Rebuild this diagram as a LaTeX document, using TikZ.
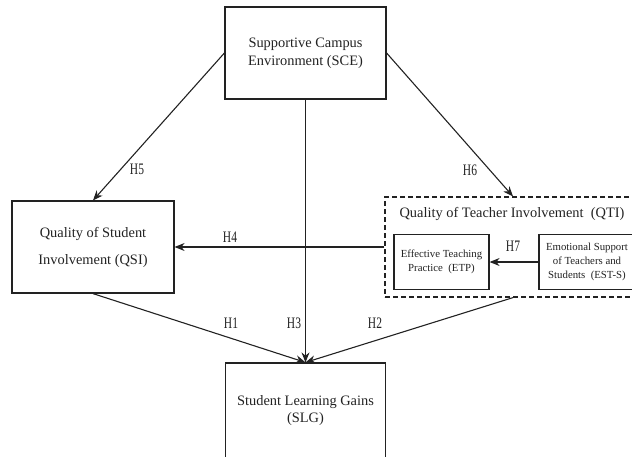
\documentclass[tikz,border=0pt]{standalone}
\usepackage{fontspec}
\setmainfont{Liberation Serif}
\usetikzlibrary{arrows.meta}
\definecolor{ink}{HTML}{222222}
\tikzset{
  box/.style={draw=ink, line width=1.2pt, align=center, text=ink, inner sep=0pt},
  conn/.style={draw=ink, line width=1.1pt, -{Stealth[length=10pt,width=8pt]}},
  hlab/.style={text=ink, inner sep=0pt, font=\fontsize{16}{18}\selectfont},
}
\newcommand{\hl}[1]{\scalebox{0.72}[1]{#1}}
\begin{document}
\begin{tikzpicture}[x=1pt,y=-1pt]
\useasboundingbox (0,0) rectangle (632,456);
\node[box, minimum width=161pt, minimum height=92pt, font=\fontsize{14.4}{18}\selectfont]
  (sce) at (305.5,53) {Supportive Campus\\Environment (SCE)};
\node[box, minimum width=162pt, minimum height=92pt, font=\fontsize{14.4}{27}\selectfont]
  (qsi) at (93,247) {Quality of Student\\Involvement (QSI)};
\node[box, minimum width=160pt, minimum height=95pt, font=\fontsize{14.4}{17}\selectfont]
  (slg) at (305.5,410.5) {Student Learning Gains\\(SLG)};
\node[box, dashed, dash pattern=on 5pt off 3pt, minimum width=256pt, minimum height=100pt]
  (qti) at (513,247) {};
\node[text=ink, inner sep=0pt, font=\fontsize{14.4}{17}\selectfont]
  (qtit) at (512,214) {Quality of Teacher Involvement\ \ (QTI)};
\node[box, minimum width=95pt, minimum height=55pt, font=\fontsize{10.8}{14}\selectfont]
  (etp) at (441.5,262) {Effective Teaching\\Practice\ \ (ETP)};
\node[box, minimum width=96pt, minimum height=55pt, font=\fontsize{10.8}{14}\selectfont]
  (ests) at (587,262) {Emotional Support\\of Teachers and\\Students\ \ (EST-S)};
\draw[conn] (sce.west) -- (qsi.north);
\draw[conn] (sce.east) -- (qti.north);
\draw[conn] (sce.south) -- (slg.north);
\draw[conn] (qsi.south) -- (slg.north);
\draw[conn] (qti.south) -- (slg.north);
\draw[conn] (qti.west) -- (qsi.east);
\draw[conn] (ests.west) -- (etp.east);
\node[hlab] (h5) at (137,169) {\hl{H5}};
\node[hlab] (h6) at (470,170) {\hl{H6}};
\node[hlab] (h4) at (230,237) {\hl{H4}};
\node[hlab] (h7) at (513,246) {\hl{H7}};
\node[hlab] (h1) at (231,323) {\hl{H1}};
\node[hlab] (h3) at (294,323) {\hl{H3}};
\node[hlab] (h2) at (375,323) {\hl{H2}};
\end{tikzpicture}
\end{document}
